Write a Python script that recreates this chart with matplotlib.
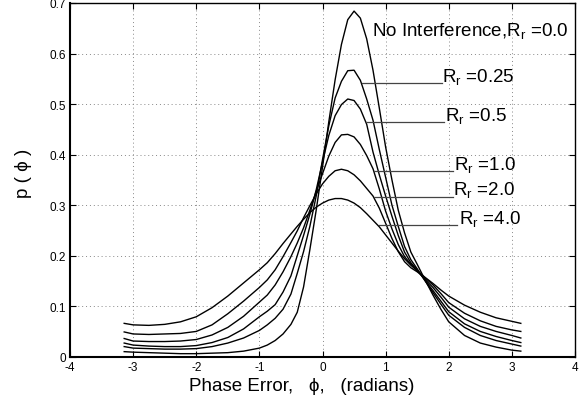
import matplotlib
matplotlib.use("Agg")
import matplotlib.pyplot as plt

plt.rcParams['font.family'] = ['Liberation Sans', 'DejaVu Sans']
plt.rcParams['mathtext.fontset'] = 'custom'
plt.rcParams['mathtext.rm'] = 'Liberation Sans'

# phase error samples (radians)
phi = [-3.1416, -3.0, -2.75, -2.5, -2.25, -2.0, -1.75, -1.5, -1.25, -1.0,
       -0.875, -0.75, -0.625, -0.5, -0.4, -0.3, -0.2, -0.1, 0.0, 0.1,
       0.2, 0.3, 0.4, 0.5, 0.6, 0.7, 0.8, 0.9, 1.0, 1.1,
       1.2, 1.3, 1.4, 1.5, 1.625, 1.75, 1.875, 2.0, 2.25, 2.5,
       2.75, 3.0, 3.1416]

p_r00 = [.010, .009, .008, .007, .006, .006, .007, .008, .011, .017,
         .023, .032, .045, .064, .088, .138, .212, .290, .375, .465,
         .548, .618, .667, .684, .670, .629, .567, .492, .415, .350,
         .290, .245, .207, .183, .152, .122, .094, .069, .042, .027,
         .019, .013, .011]
p_r025 = [.020, .017, .016, .015, .015, .016, .020, .027, .037, .052,
          .063, .076, .094, .124, .165, .208, .258, .318, .390, .457,
          .512, .545, .566, .567, .547, .510, .468, .410, .355, .300,
          .258, .218, .192, .174, .150, .127, .104, .082, .058, .042,
          .032, .025, .021]
p_r05 = [.027, .023, .021, .020, .020, .022, .028, .038, .055, .079,
         .090, .103, .128, .160, .200, .240, .282, .330, .385, .438,
         .477, .499, .510, .507, .490, .460, .405, .360, .318, .278,
         .240, .207, .186, .172, .151, .131, .110, .089, .065, .050,
         .040, .032, .028]
p_r10 = [.036, .031, .030, .030, .031, .034, .043, .058, .080, .108,
         .122, .142, .168, .198, .225, .255, .290, .327, .362, .397,
         .424, .439, .440, .435, .420, .398, .372, .332, .288, .253,
         .222, .198, .183, .170, .153, .137, .118, .098, .075, .060,
         .050, .042, .037]
p_r20 = [.049, .045, .044, .045, .046, .050, .063, .085, .110, .137,
         .152, .172, .198, .226, .249, .275, .299, .322, .342, .357,
         .368, .371, .368, .360, .348, .333, .318, .294, .264, .234,
         .208, .188, .176, .168, .156, .142, .125, .107, .086, .071,
         .060, .053, .050]
p_r40 = [.066, .063, .062, .064, .069, .079, .097, .120, .146, .172,
         .186, .204, .224, .243, .258, .272, .285, .296, .304, .310,
         .313, .313, .310, .304, .295, .283, .270, .257, .241, .225,
         .209, .194, .181, .170, .157, .145, .132, .120, .102, .088,
         .077, .070, .066]

series = [p_r00, p_r025, p_r05, p_r10, p_r20, p_r40]

labels = ['0.25', '0.5', '1.0', '2.0', '4.0']
# annotation leader lines: (start x, end x, y) and text x
leader = [(0.62, 1.89, 0.541, 1.90),
          (0.69, 1.93, 0.464, 1.945),
          (0.81, 2.07, 0.368, 2.08),
          (0.81, 2.06, 0.317, 2.07),
          (0.89, 2.13, 0.260, 2.16)]

xticks = [-4, -3, -2, -1, 0, 1, 2, 3, 4]
yticks = [0, 0.1, 0.2, 0.3, 0.4, 0.5, 0.6, 0.7]
yticklabels = ['0', '0.1', '0.2', '0.3', '0.4', '0.5', '0.6', '0.7']

fig = plt.figure(figsize=(5.87, 4.02), dpi=100)
ax = fig.add_axes([70/587, 44.3/402, 505/587, 353.7/402])

for s in series:
    ax.plot(phi, s, color='black', lw=1.0)

for (x0, x1, y, xt), lab in zip(leader, labels):
    ax.plot([x0, x1], [y, y], color='#444444', lw=0.9)
    ax.text(xt, y + 0.003, r'R$_\mathregular{r}$ =' + lab, fontsize=13.5,
            va='baseline', ha='left')

ax.text(0.78, 0.636, r'No Interference,R$_\mathregular{r}$ =0.0', fontsize=13.5,
        va='baseline', ha='left')

ax.set_xlim(-4, 4)
ax.set_ylim(0, 0.7)
ax.set_xticks(xticks)
ax.set_xticklabels([str(t) for t in xticks])
ax.set_yticks(yticks)
ax.set_yticklabels(yticklabels)
ax.grid(True, linestyle=(0, (1, 3)), color='#888888', linewidth=0.7)
ax.tick_params(direction='in', top=True, right=True, length=4, labelsize=8.5, pad=3)
for side in ['left', 'bottom']:
    ax.spines[side].set_linewidth(1.5)
for side in ['top', 'right']:
    ax.spines[side].set_linewidth(1.0)

ax.set_xlabel('Phase Error,   \u03d5,   (radians)', fontsize=13.5, labelpad=1)
ax.xaxis.set_label_coords(0.459, -0.058)
ax.set_ylabel('p ( \u03d5 )', fontsize=13.5)
ax.yaxis.set_label_coords(-0.075, 0.52)

fig.savefig('out.png', dpi=100)
